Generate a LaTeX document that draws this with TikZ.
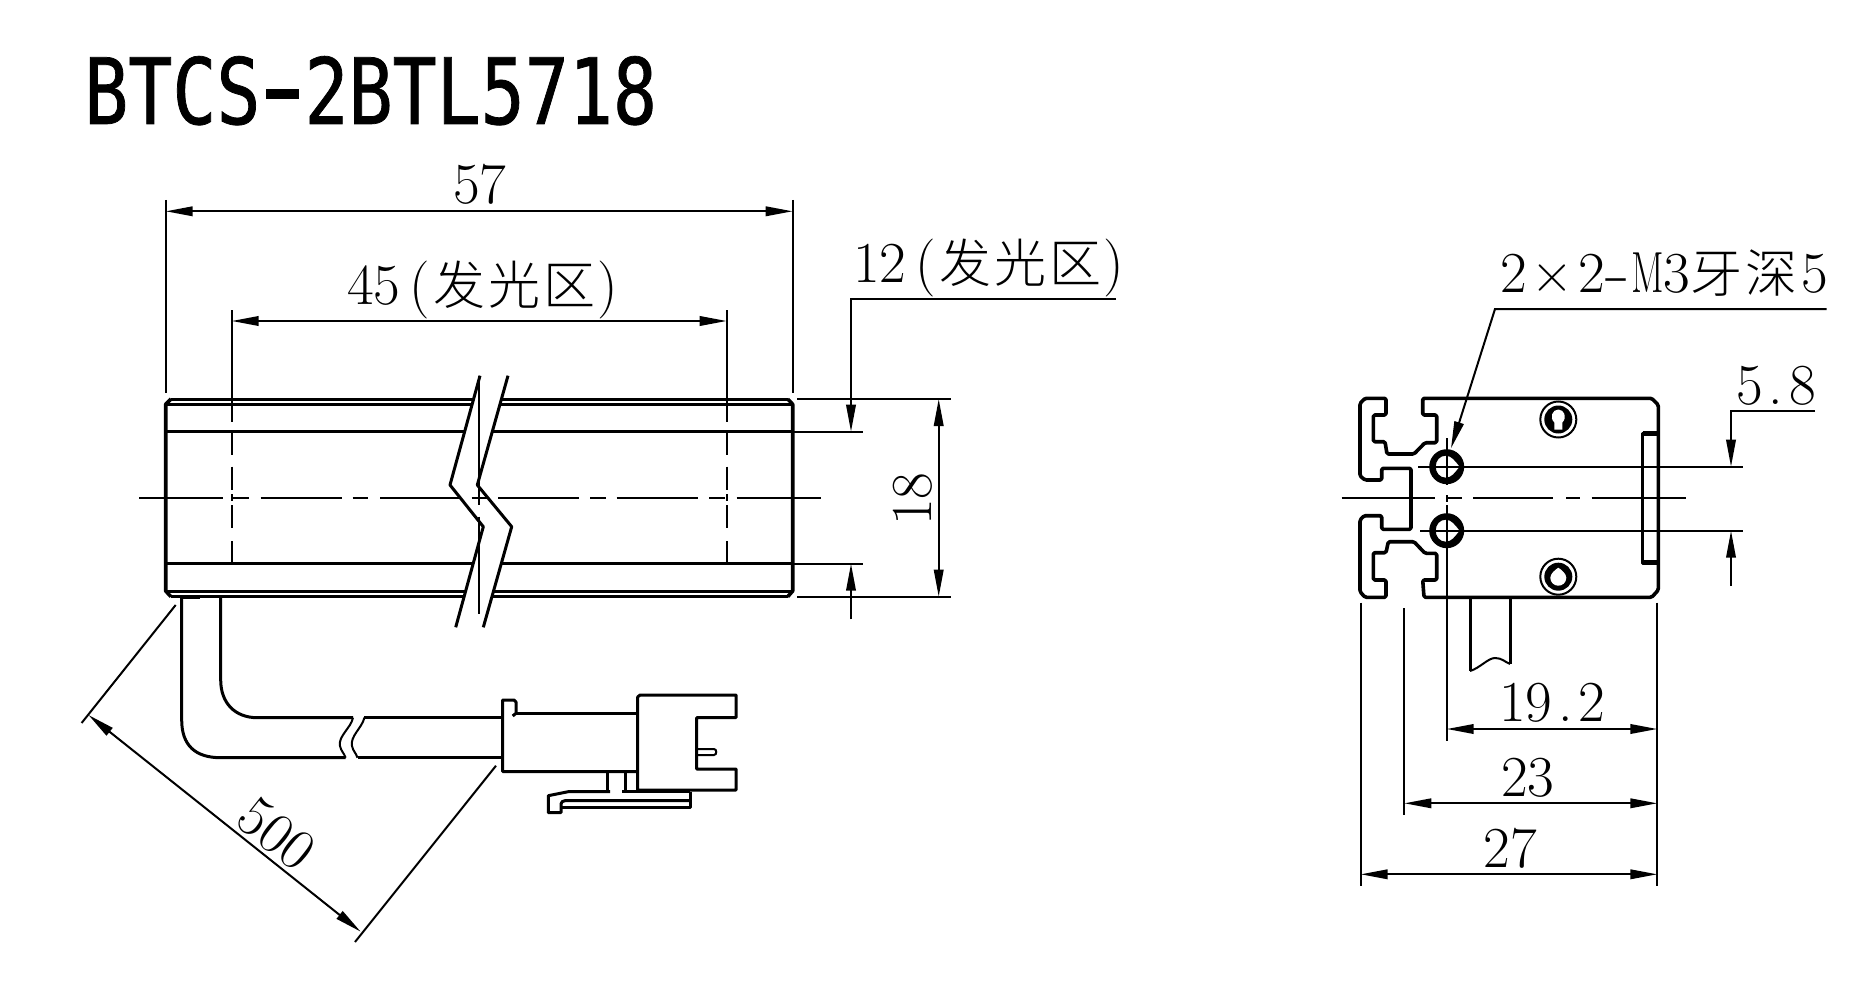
\documentclass[tikz,border=0pt]{standalone}
\usepackage{fontspec}
\usepackage{graphicx}
\usetikzlibrary{arrows.meta}
\newfontfamily\titlefont[FakeStretch=0.8,FakeBold=0.8]{DejaVu Sans Mono}
\newfontfamily\cjkfont[LetterSpace=6]{Noto Sans CJK SC Light}
\newcommand{\cjktext}[1]{{\cjkfont\fontsize{52}{56}\selectfont #1}}
\newcommand{\glowzone}{\hspace{9.6pt}(\hspace{3pt}\cjktext{发光区}\hspace{2pt})}
\tikzset{
    outline/.style={line width=3pt, line join=round},
    thickline/.style={line width=3.6pt, line join=round},
    thinline/.style={line width=2pt},
    dimline/.style={line width=2pt, >={Triangle[length=27pt,width=9.5pt]}},
    dimtext/.style={font=\fontsize{58}{62}\selectfont, inner sep=0pt, outer sep=0pt, anchor=base west},
}
\begin{document}
\begin{tikzpicture}[x=1pt, y=-1pt]

    \useasboundingbox (0, 0) rectangle (1868, 984);

    % Title
    \node[inner sep=0pt, anchor=base west, font=\titlefont\fontsize{91.5}{96}\selectfont] (title) at (84, 124) {BTCS\makebox[44pt]{\scalebox{1.7}[1.2]{-}}2BTL5718};

    % Bar, front view
    \draw[thickline] (171, 399) -- (165.7, 404.3) -- (165.7, 591) -- (171, 596.7);
    \draw[thickline] (787.7, 399) -- (792.7, 404.3) -- (792.7, 591) -- (787.7, 596.7);
    \draw[outline] (171, 399) -- (787.7, 399);
    \draw[outline] (165.7, 404.3) -- (792.7, 404.3);
    \draw[outline] (165.7, 431.7) -- (792.7, 431.7);
    \draw[outline] (165.7, 563.7) -- (792.7, 563.7);
    \draw[outline] (165.7, 591) -- (792.7, 591);
    \draw[outline] (171, 596.7) -- (787.7, 596.7);
    \draw[thickline] (181.7, 597) -- (200, 597);

    % Dashed ends of the lit zone
    \draw[thinline, dash pattern=on 111.7 off 11.3 on 22 off 11.7 on 23.3 off 4 on 7 off 4 on 23 off 13 on 22.7] (231.7, 310) -- (231.7, 563.7);
    \draw[thinline, dash pattern=on 111.7 off 11.3 on 22 off 11.7 on 23.3 off 4 on 7 off 4 on 23 off 13 on 22.7] (726.7, 310) -- (726.7, 563.7);

    % Centre line
    \foreach \xa/\xb in {139/222.7, 233/249.3, 260.7/341.7, 352.7/368.3, 380/460, 471.7/486.7, 498/579.3, 590/606, 616.7/698.3, 709.3/725, 736.7/821}
        \draw[thinline] (\xa, 497.7) -- (\xb, 497.7);

    % Break in the bar
    \fill[white] (480, 375.7) -- (450, 485) -- (483.3, 526.7) -- (455.7, 627.3) -- (483.3, 627.3) -- (511.7, 526.7) -- (477.3, 485) -- (508, 375.7) -- cycle;
    \draw[outline] (480, 375.7) -- (450, 485) -- (483.3, 526.7) -- (455.7, 627.3);
    \draw[outline] (508, 375.7) -- (477.3, 485) -- (511.7, 526.7) -- (483.3, 627.3);
    \draw[thinline] (479.3, 375.7) -- (479.3, 505);
    \draw[thinline] (479.3, 516.7) -- (479.3, 614.3);
    \draw[thinline] (471.7, 497.7) -- (486.7, 497.7);

    % Cable
    \draw[outline] (181.7, 597) -- (181.7, 720) .. controls (181.7, 745) and (195, 757.7) .. (220.7, 757.7) -- (345.6, 757.7);
    \draw[outline] (220.7, 597) -- (220.7, 680) .. controls (220.7, 703) and (235, 717.7) .. (257.4, 717.7) -- (353, 717.7);
    \draw[outline] (357.5, 757.7) -- (502.7, 757.7);
    \draw[outline] (364.4, 717.7) -- (502.7, 717.7);
    \draw[thinline] (353, 717.7) .. controls (351, 728) and (338, 736) .. (340, 746) .. controls (341, 751) and (344, 753) .. (345.6, 757.7);
    \draw[thinline] (364.4, 717.7) .. controls (362, 728) and (350, 736) .. (352, 746) .. controls (353, 751) and (356, 753) .. (357.5, 757.7);

    % Connector
    \draw[outline] (516, 713.3) -- (637.7, 713.3);
    \draw[outline] (512.7, 716) -- (516, 713.3) -- (516, 702) -- (514, 700) -- (502.7, 700) -- (502.7, 771.7) -- (637.7, 771.7);
    \draw[outline] (640, 695) -- (736, 695) -- (736, 717.7) -- (696.7, 717.7) -- (696.7, 769) -- (736, 769) -- (736, 790) -- (637.7, 790) -- (637.7, 697) -- cycle;
    \draw[thinline] (696.7, 749) -- (714, 749) .. controls (717, 749) and (717, 755) .. (714, 755) -- (696.7, 755);
    \draw[outline] (607.3, 771.7) -- (607.3, 791.7);
    \draw[outline] (625, 771.7) -- (625, 791.7);
    \draw[outline] (637.7, 790) -- (637.7, 791.7);
    \draw[outline] (690, 791.7) -- (621.7, 791.7);
    \draw[outline] (610, 791.7) -- (568.3, 791.7) -- (548.3, 795.7) -- (548.3, 812.7) -- (561, 812.7) -- (561, 804) .. controls (561, 802) and (563, 800.7) .. (565, 800.7) -- (690, 800.7);
    \draw[outline] (690, 791.7) -- (690, 807.3) -- (561, 807.3);

    % Length of the bar and of the lit zone
    \draw[thinline] (165.7, 200) -- (165.7, 393);
    \draw[thinline] (792.7, 200) -- (792.7, 393);
    \draw[dimline, <->] (165.7, 211.3) -- (792.7, 211.3);
    \node[dimtext] (len57) at (453, 204) {57};
    \draw[dimline, <->] (231.7, 321) -- (726.7, 321);
    \node[dimtext] (len45) at (347, 305) {45\glowzone};

    % Height of the bar and of the lit zone
    \draw[thinline] (797.3, 399) -- (950.7, 399);
    \draw[thinline] (797.3, 596.7) -- (950.7, 596.7);
    \draw[thinline] (792, 431.7) -- (862.7, 431.7);
    \draw[thinline] (792, 563.7) -- (862.7, 563.7);
    \draw[dimline, <->] (938.7, 399) -- (938.7, 596.7);
    \node[dimtext, anchor=base, rotate=90] (hgt18) at (931.7, 499) {18};
    \draw[dimline, ->] (1116, 299.3) -- (851, 299.3) -- (851, 431.7);
    \draw[dimline, ->] (851, 619.3) -- (851, 563.7);
    \node[dimtext] (hgt12) at (853, 283) {12\glowzone};

    % Cable length
    \draw[thinline] (175.7, 605) -- (81.6, 723);
    \draw[thinline] (496, 765.7) -- (355, 942);
    \draw[dimline, <->] (88.5, 715) -- (360.7, 931.7);
    \node[dimtext, anchor=center, rotate=-38.5] (len500) at (276.5, 834) {500};

    % Profile, side view
    \draw[thickline, rounded corners=1.5pt] (1365, 398.3) -- (1386, 398.3) -- (1386, 415) -- (1373.3, 415) -- (1373.3, 441.7) -- (1385, 441.7) -- (1387, 454) -- (1414, 454) -- (1425, 442.7) -- (1436.7, 442.7) -- (1436.7, 415) -- (1422.7, 415) -- (1422.7, 398.3) -- (1651.7, 398.3) -- (1658.3, 405) -- (1658.3, 590) -- (1651.7, 597.3) -- (1424, 597.3) -- (1422.7, 580) -- (1436.7, 580) -- (1436.7, 553.3) -- (1425, 553.3) -- (1414, 541.7) -- (1388.3, 541.7) -- (1386, 552.7) -- (1373.3, 552.7) -- (1373.3, 580) -- (1386, 580) -- (1386, 597.3) -- (1365, 597.3) -- (1360, 591.7) -- (1360, 520) -- (1364, 515.7) -- (1381.7, 515.7) -- (1381.7, 529.3) -- (1411, 529.3) -- (1411, 468.3) -- (1381.7, 468.3) -- (1381.7, 480) -- (1365, 480) -- (1360, 476) -- (1360, 403.3) -- cycle;

    % Slot on the back
    \draw[outline] (1642.7, 433) rectangle (1658.3, 563);
    \draw[line width=5pt] (1642.7, 433.5) -- (1658.3, 433.5);
    \draw[line width=5pt] (1642.7, 562.5) -- (1658.3, 562.5);

    % Threaded holes
    \fill[even odd rule, shift={(1446.7, 466.7)}] (0, 0) circle[radius=17.5] (13, 0) .. controls (8, -6) and (5, -11) .. (-1, -11) .. controls (-7, -11) and (-11, -6) .. (-11, 0) .. controls (-11, 6) and (-7, 11) .. (-1, 11) .. controls (5, 11) and (8, 6) .. (13, 0) -- cycle;
    \fill[even odd rule, shift={(1446.7, 530.7)}] (0, 0) circle[radius=17.5] (13, 0) .. controls (8, -6) and (5, -11) .. (-1, -11) .. controls (-7, -11) and (-11, -6) .. (-11, 0) .. controls (-11, 6) and (-7, 11) .. (-1, 11) .. controls (5, 11) and (8, 6) .. (13, 0) -- cycle;
    \draw[thinline] (1446.7, 438) -- (1446.7, 485);
    \draw[thinline] (1446.7, 495) -- (1446.7, 501.7);
    \draw[thinline] (1446.7, 505) -- (1446.7, 740.7);
    \draw[thinline] (1418, 466.7) -- (1743, 466.7);
    \draw[thinline] (1420, 530.7) -- (1743, 530.7);

    % Fixing screws
    \draw[thinline] (1558.3, 419.5) circle[radius=18];
    \fill (1558.3, 419.5) circle[radius=14];
    \fill[white, shift={(1558.3, 419.5)}] (-4, 10) -- (-4, 3) .. controls (-9, -2) and (-6, -10) .. (0, -10) .. controls (6, -10) and (9, -2) .. (4, 3) -- (4, 10) -- cycle;
    \draw[thinline] (1558.3, 576.7) circle[radius=18];
    \fill (1558.3, 576.7) circle[radius=14];
    \fill[white, shift={(1558.3, 576.7)}] (0, -9) .. controls (3, -7) and (8, -3) .. (8, 1) .. controls (8, 6) and (4, 9) .. (0, 9) .. controls (-4, 9) and (-8, 6) .. (-8, 1) .. controls (-8, -3) and (-3, -7) .. (0, -9) -- cycle;

    % Centre line, side view
    \foreach \xa/\xb in {1341.7/1435, 1447/1461.7, 1473/1553, 1566/1580, 1591.7/1685.7}
        \draw[thinline] (\xa, 498) -- (\xb, 498);

    % Cable, side view
    \draw[outline] (1470, 597) -- (1470, 671);
    \draw[outline] (1510, 597) -- (1510, 664);
    \draw[thinline] (1470, 671) .. controls (1480, 668) and (1488, 658) .. (1495, 658) .. controls (1502, 658) and (1505, 662) .. (1510, 664);

    % Side view dimensions
    \draw[thinline] (1360.7, 602.7) -- (1360.7, 886);
    \draw[thinline] (1404.3, 608) -- (1404.3, 815);
    \draw[thinline] (1657.3, 602.7) -- (1657.3, 886);
    \draw[dimline, <->] (1446.7, 729) -- (1657.3, 729);
    \node[dimtext] (wid19) at (1499, 721.7) {19\makebox[26.6pt]{.}2};
    \draw[dimline, <->] (1404.3, 803.3) -- (1657.3, 803.3);
    \node[dimtext] (wid23) at (1501, 796) {23};
    \draw[dimline, <->] (1360.7, 874.3) -- (1657.3, 874.3);
    \node[dimtext] (wid27) at (1483.7, 867) {27};

    % Hole spacing
    \draw[dimline, ->] (1815, 411) -- (1731, 411) -- (1731, 466.7);
    \draw[dimline, ->] (1731, 586) -- (1731, 530.7);
    \node[dimtext] (gap58) at (1736, 404) {5\makebox[26.6pt]{.}8};

    % Thread callout
    \draw[dimline, ->] (1826.7, 309) -- (1495, 309) -- (1451, 448.3);
    \node[dimtext] (thread) at (1500, 293) {2\hspace{5pt}×\hspace{5pt}2\makebox[26pt]{\scalebox{1.4}[1]{-}}\scalebox{.66}[1]{M}3\cjktext{牙深}\hspace{4pt}5};

\end{tikzpicture}
\end{document}
